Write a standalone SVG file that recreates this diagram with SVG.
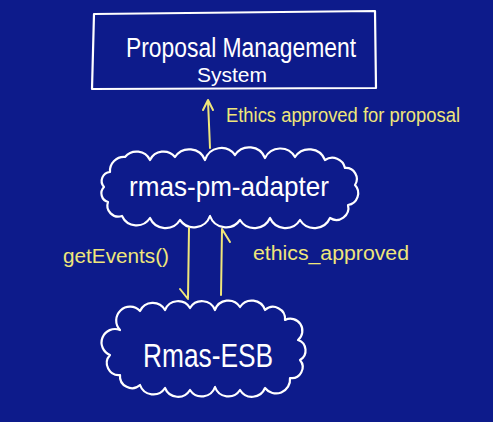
<svg xmlns="http://www.w3.org/2000/svg" width="493" height="422" viewBox="0 0 493 422">
<style>
.bg{fill:#0d1b8b}
.node{fill:none;stroke:#ffffff;stroke-width:2.2;stroke-linejoin:round;stroke-linecap:round}
.nt{fill:#ffffff;font-family:"Liberation Sans",Arial,sans-serif;text-anchor:middle}
.conn{fill:none;stroke:#efe67a;stroke-width:2;stroke-linecap:round;stroke-linejoin:round}
.lt{fill:#efe67a;font-family:"Liberation Sans",Arial,sans-serif;font-size:20px}
</style>
<rect class="bg" x="0" y="0" width="493" height="422"/>
<g id="pms">
<path class="node" d="M94,14 L375,11 L376,88 L92,89 Z"/>
<text class="nt" x="241" y="57" font-size="27" textLength="230" lengthAdjust="spacingAndGlyphs">Proposal Management</text>
<text class="nt" x="232" y="82" font-size="21">System</text>
</g>
<g id="adapter">
<path class="node" d="M110,172 A14,14 0 0 1 125,157 A15,15 0 0 1 150,160 A15,15 0 0 1 175,157 A17,17 0 0 1 205,160 A17,17 0 0 1 235,155 A17,17 0 0 1 265,158 A17,17 0 0 1 295,157 A17,17 0 0 1 325,160 A13,13 0 0 1 345,168 A11,11 0 0 1 355,185 A12,12 0 0 1 348,205 A12,12 0 0 1 330,218 A17,17 0 0 1 300,220 A17,17 0 0 1 270,218 A17,17 0 0 1 240,220 A17,17 0 0 1 210,216 A17,17 0 0 1 180,220 A17,17 0 0 1 150,218 A16,16 0 0 1 122,216 A11,11 0 0 1 108,202 A9,9 0 0 1 104,187 A9,9 0 0 1 110,172 Z"/>
<text class="nt" x="229" y="196" font-size="28" textLength="200" lengthAdjust="spacingAndGlyphs">rmas-pm-adapter</text>
</g>
<g id="esb">
<path class="node" d="M120,330 A13,13 0 0 1 140,311 A14,14 0 0 1 165,310 A14,14 0 0 1 190,308 A14,14 0 0 1 215,310 A14,14 0 0 1 240,307 A14,14 0 0 1 265,310 A12,12 0 0 1 285,320 A12,12 0 0 1 298,340 A11,11 0 0 1 300,360 A11,11 0 0 1 290,378 A14,14 0 0 1 265,388 A14,14 0 0 1 240,390 A14,14 0 0 1 215,387 A14,14 0 0 1 190,390 A14,14 0 0 1 165,388 A14,14 0 0 1 140,385 A12,12 0 0 1 120,375 A12,12 0 0 1 110,355 A12,12 0 0 1 120,330 Z"/>
<text class="nt" x="208" y="367" font-size="34" textLength="130" lengthAdjust="spacingAndGlyphs">Rmas-ESB</text>
</g>
<g id="connectors">
<path class="conn" d="M210,148 L208,101 M203,110 L208,100 L213,110"/>
<text class="lt" x="226" y="122" textLength="234" lengthAdjust="spacingAndGlyphs">Ethics approved for proposal</text>
<path class="conn" d="M189,228 L188,298 M180,289 L188,299"/>
<text class="lt" x="63" y="263" textLength="106" lengthAdjust="spacingAndGlyphs">getEvents()</text>
<path class="conn" d="M221,295 L222,229 M222,229 L230,242"/>
<text class="lt" x="253" y="260" textLength="156" lengthAdjust="spacingAndGlyphs">ethics_approved</text>
</g>
</svg>
